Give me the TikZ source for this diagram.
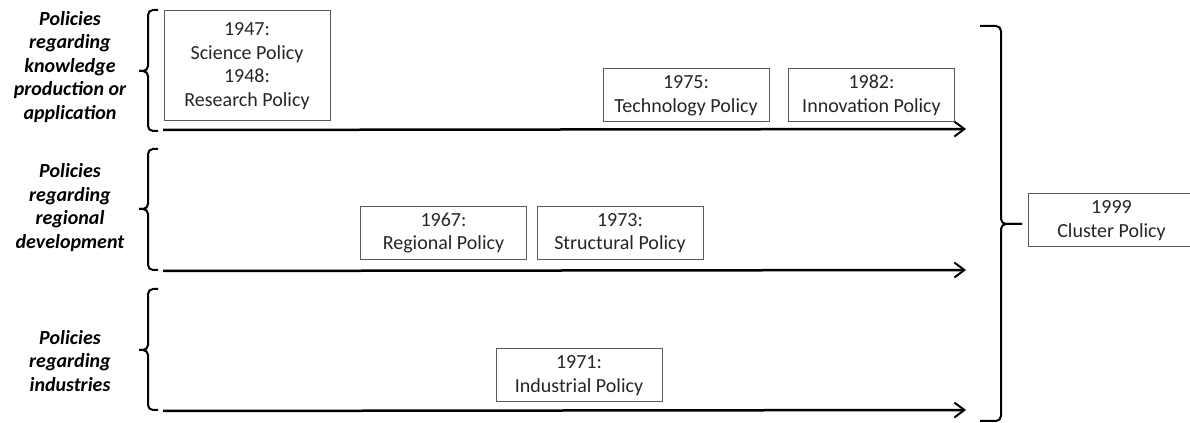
\documentclass[tikz,border=0pt]{standalone}
\usepackage{fontspec}
\setmainfont{Carlito}
\usetikzlibrary{arrows.meta}
\tikzset{
  policy/.style={draw=black!65, line width=0.6pt, minimum width=99.6pt, minimum height=31.8pt, align=center, inner sep=1pt, text=black!85, font=\fontsize{12}{14.1}\selectfont},
  field/.style={align=center, font=\fontsize{12}{14.1}\selectfont\bfseries\itshape},
  timeline/.style={line width=1.5pt, -{Straight Barb[length=6pt, width=9pt, line width=1.2pt]}},
  bracket/.style={line width=1.2pt, rounded corners=3pt}
}
\begin{document}
\begin{tikzpicture}[x=0.6pt, y=-0.6pt]
      \useasboundingbox (0,0) rectangle (1190,423);
      % fields
      \node[field] (knowledge) at (70,67) {Policies\\regarding\\knowledge\\production or\\application};
      \node[field] (regional) at (70,207.5) {Policies\\regarding\\regional\\development};
      \node[field] (industries) at (70,361) {Policies\\regarding\\industries};
      % brackets
      \draw[bracket] (158,10) -- (148,10) -- (148,71) -- (139,71);
      \draw[bracket] (139,71) -- (148,71) -- (148,131) -- (158,131);
      \draw[bracket] (158,149) -- (148,149) -- (148,209) -- (139,209);
      \draw[bracket] (139,209) -- (148,209) -- (148,270) -- (158,270);
      \draw[bracket] (158,289) -- (148,289) -- (148,350) -- (139,350);
      \draw[bracket] (139,350) -- (148,350) -- (148,410) -- (158,410);
      \draw[bracket] (980,26) -- (1001,26) -- (1001,224) -- (1022,224);
      \draw[bracket] (1022,224) -- (1001,224) -- (1001,421) -- (980,421);
      % timelines
      \coordinate (k0) at (163,130);
      \coordinate (k1) at (966,129);
      \coordinate (r0) at (163,271);
      \coordinate (r1) at (966,270);
      \coordinate (i0) at (163,411);
      \coordinate (i1) at (966,410);
      \draw[timeline] (k0) -- (k1);
      \draw[timeline] (r0) -- (r1);
      \draw[timeline] (i0) -- (i1);
      % policies
      \node[policy, minimum height=66pt] (science) at (247,66) {1947:\\Science Policy\\1948:\\Research Policy};
      \node[policy] (technology) at (686,95.5) {1975:\\Technology Policy};
      \node[policy] (innovation) at (871.5,95.5) {1982:\\Innovation Policy};
      \node[policy] (regionalp) at (443.5,233) {1967:\\Regional Policy};
      \node[policy] (structural) at (620,233) {1973:\\Structural Policy};
      \node[policy] (industrial) at (579,375.5) {1971:\\Industrial Policy};
      \node[policy, minimum width=100.2pt] (cluster) at (1111.5,220.5) {1999\\Cluster Policy};
    \end{tikzpicture}
\end{document}
